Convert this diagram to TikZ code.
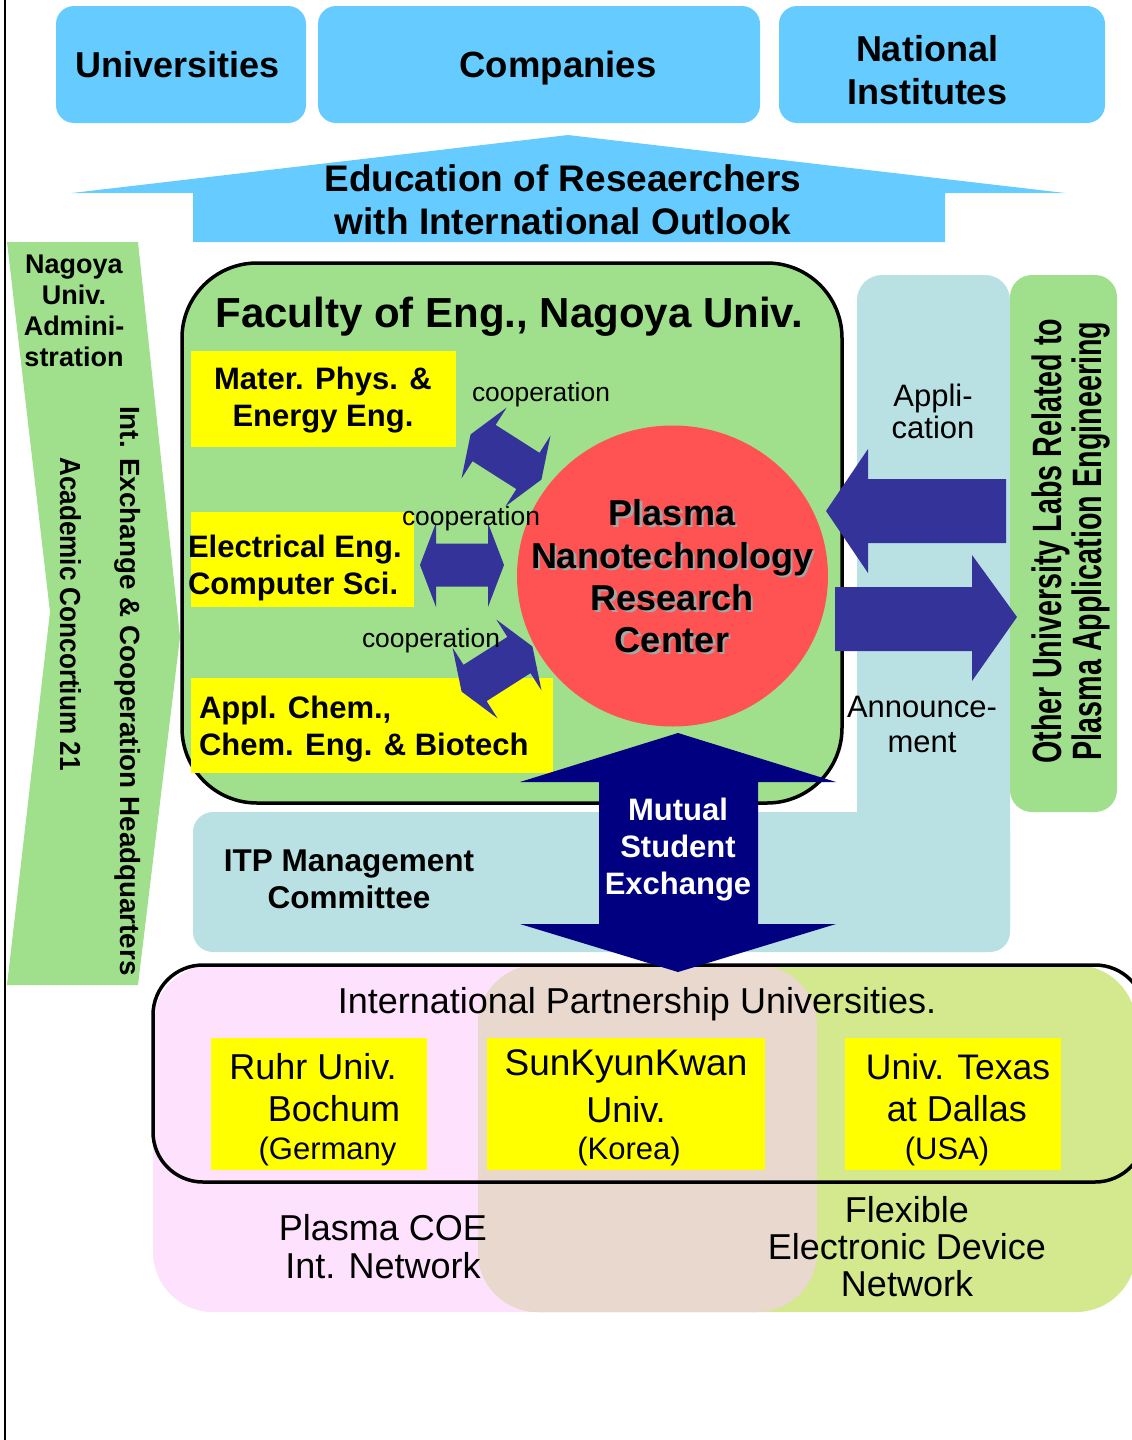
\documentclass[tikz,border=0pt]{standalone}
\usepackage{fontspec}
\setmainfont{Liberation Sans}
\usetikzlibrary{shapes.geometric}
\definecolor{skyb}{RGB}{102,204,255}
\definecolor{lgreen}{RGB}{160,224,140}
\definecolor{ylw}{RGB}{255,255,0}
\definecolor{redc}{RGB}{255,82,82}
\definecolor{coopb}{RGB}{51,51,153}
\definecolor{navyb}{RGB}{0,0,128}
\definecolor{itpb}{RGB}{185,224,227}
\definecolor{pinkc}{RGB}{253,225,253}
\definecolor{tanc}{RGB}{232,216,205}
\definecolor{ygreen}{RGB}{212,232,142}
\newcommand\fsz[2]{\fontsize{#1}{#2}\selectfont}
\begin{document}
\begin{tikzpicture}[x=1pt,y=-1pt,
  lbl/.style={inner sep=0pt, outer sep=0pt, align=center, text=black},
  skybox/.style={fill=skyb, rounded corners=18pt, inner sep=0pt, minimum height=117pt},
  ybox/.style={fill=ylw, inner sep=0pt},
  coop/.style={fill=coopb},
]
\useasboundingbox (0,0) rectangle (1132,1440);
\draw[line width=1.5pt] (5,0) -- (5,1440);

% top boxes
\node[skybox, minimum width=250pt] (univ) at (181,64.5) {};
\node[skybox, minimum width=442pt] (comp) at (539,64.5) {};
\node[skybox, minimum width=326pt] (natl) at (942,64.5) {};
\node[lbl, anchor=base, font=\bfseries\fsz{36}{43}] (univt) at (177.5,77) {Universities};
\node[lbl, anchor=base, font=\bfseries\fsz{36.5}{43}] (compt) at (558,77) {Companies};
\node[lbl, font=\bfseries\fsz{36}{43}] (natlt) at (927,70.3) {National\\Institutes};

% education arrow
\fill[skyb] (568,135) -- (1065,193) -- (945,193) -- (945,242) -- (193,242) -- (193,193) -- (72,193) -- cycle;
\node[lbl, font=\bfseries\fsz{37}{43}] (edu) at (563,200) {Education of Reseaerchers\\with International Outlook};

% left chevron
\fill[lgreen] (7,242) -- (138,242) -- (180,637) -- (138,985) -- (7,985) -- (50,612) -- cycle;
\node[lbl, font=\bfseries\fsz{27}{31}] (nua) at (74,311) {Nagoya\\Univ.\\Admini-\\stration};
\node[lbl, anchor=base, rotate=-90, font=\bfseries\fsz{27.8}{33}] (iech) at (120,691) {Int. Exchange \& Cooperation Headquarters};
\node[lbl, anchor=base, rotate=-90, xscale=0.9, font=\bfseries\fsz{29}{33}] (ac21) at (60,614) {Academic Concortium 21};

% ITP area
\fill[itpb, rounded corners=25pt] (857,275) rectangle (1010,952);
\fill[itpb, rounded corners=20pt] (193,812) rectangle (1010,952);
\node[lbl, font=\bfseries\fsz{31.5}{37}] (itp) at (349,879) {ITP Management\\Committee};

% other labs
\node[fill=lgreen, rounded corners=22pt, minimum width=107pt, minimum height=537pt, inner sep=0pt] (olabs) at (1063.5,543.5) {};
\node[lbl, rotate=90, xscale=0.70, font=\bfseries\fsz{41}{40}] (olabst) at (1071,541) {Other University Labs Related to\\Plasma Application Engineering};

% faculty
\node[fill=lgreen, draw=black, line width=3.5pt, rounded corners=75pt, minimum width=660pt, minimum height=540pt, inner sep=0pt] (fac) at (512,533) {};
\node[lbl, anchor=base, font=\bfseries\fsz{42}{50}] (fact) at (509,327) {Faculty of Eng., Nagoya Univ.};

\node[ybox, minimum width=265pt, minimum height=96pt] (mat) at (323.5,399) {};
\node[lbl, font=\bfseries\fsz{31}{37}] (matt) at (323,400.4) {Mater. Phys. \&\\Energy Eng.};
\node[ybox, minimum width=223pt, minimum height=95pt] (elec) at (302.5,559.5) {};
\node[lbl, anchor=west, align=left, font=\bfseries\fsz{31}{37}] (elect) at (188,567.5) {Electrical Eng.\\Computer Sci.};
\node[ybox, minimum width=362pt, minimum height=95pt] (chem) at (372,725.5) {};
\node[lbl, anchor=west, align=left, font=\bfseries\fsz{31}{37}] (chemt) at (199,729.5) {Appl. Chem.,\\Chem. Eng. \& Biotech};

% centre
\node[ellipse, fill=redc, minimum width=311pt, minimum height=301pt, inner sep=0pt] (pnrc) at (672.5,576) {};
\node[lbl, text=gray!70, font=\bfseries\fsz{36}{42.3}] (pnrcs) at (674.5,578.3) {Plasma\\Nanotechnology\\Research\\Center};
\node[lbl, font=\bfseries\fsz{36}{42.3}] (pnrct) at (672,576.3) {Plasma\\Nanotechnology\\Research\\Center};

% cooperation arrows
\fill[coop, shift={(506,457)}, rotate=-32.5] (-42,0) -- (-26,-42) -- (-26,-21.5) -- (26,-21.5) -- (26,-42) -- (42,0) -- (26,42) -- (26,21.5) -- (-26,21.5) -- (-26,42) -- cycle;
\fill[coop, shift={(462,565)}] (-42,0) -- (-26,-42) -- (-26,-21.5) -- (26,-21.5) -- (26,-42) -- (42,0) -- (26,42) -- (26,21.5) -- (-26,21.5) -- (-26,42) -- cycle;
\fill[coop, shift={(497,669)}, rotate=32.5] (-42,0) -- (-26,-42) -- (-26,-21.5) -- (26,-21.5) -- (26,-42) -- (42,0) -- (26,42) -- (26,21.5) -- (-26,21.5) -- (-26,42) -- cycle;
\node[lbl, anchor=base, font=\fsz{26.4}{30}] (coop1) at (541,401) {cooperation};
\node[lbl, anchor=base, font=\fsz{26.4}{30}] (coop2) at (471,525) {cooperation};
\node[lbl, anchor=base, font=\fsz{26.4}{30}] (coop3) at (431,647) {cooperation};

% right arrows
\fill[coop] (826,511) -- (868,449) -- (868,479) -- (1006,479) -- (1006,543) -- (868,543) -- (868,573) -- cycle;
\fill[coop] (1017,617) -- (972,555) -- (972,587) -- (835,587) -- (835,651) -- (972,651) -- (972,681) -- cycle;
\node[lbl, font=\fsz{31}{32}] (appl) at (933,411) {Appli-\\cation};
\node[lbl, font=\fsz{31}{35}] (ann) at (922,724) {Announce-\\ment};

% bottom networks
\fill[pinkc, rounded corners=60pt] (153,965) rectangle (817,1312);
\fill[ygreen, rounded corners=60pt] (478,965) rectangle (1136,1312);
\begin{scope}
\clip[rounded corners=60pt] (153,965) rectangle (817,1312);
\fill[tanc, rounded corners=60pt] (478,965) rectangle (1136,1312);
\end{scope}
\node[draw=black, line width=3.5pt, rounded corners=50pt, minimum width=992pt, minimum height=217pt, inner sep=0pt] (ipu) at (649,1073.5) {};
\node[lbl, anchor=base, font=\fsz{36}{43}] (ipt) at (637,1013) {International Partnership Universities.};

\node[ybox, minimum width=216pt, minimum height=132pt] (ruhr) at (319,1104) {};
\node[ybox, minimum width=278pt, minimum height=132pt] (skku) at (626,1104) {};
\node[ybox, minimum width=216pt, minimum height=132pt] (utd) at (953,1104) {};
\node[lbl, anchor=base, font=\fsz{36}{43}] (ruhra) at (313,1079) {Ruhr Univ.};
\node[lbl, anchor=base, font=\fsz{36}{43}] (ruhrb) at (334,1121) {Bochum};
\node[lbl, anchor=base, font=\fsz{31}{37}] (ruhrc) at (327.5,1159) {(Germany};
\node[lbl, anchor=base, font=\fsz{37}{43}] (skkua) at (626,1075) {SunKyunKwan};
\node[lbl, anchor=base, font=\fsz{36}{43}] (skkub) at (626,1122) {Univ.};
\node[lbl, anchor=base, font=\fsz{31}{37}] (skkuc) at (629,1159) {(Korea)};
\node[lbl, anchor=base, font=\fsz{35.5}{43}] (utda) at (958,1079) {Univ. Texas};
\node[lbl, anchor=base, font=\fsz{36}{43}] (utdb) at (957,1121) {at Dallas};
\node[lbl, anchor=base, font=\fsz{31}{37}] (utdc) at (947,1159) {(USA)};

\node[lbl, font=\fsz{36}{38}] (pcoe) at (383,1247) {Plasma COE\\Int. Network};
\node[lbl, font=\fsz{36}{37}] (fedn) at (907,1247) {Flexible\\Electronic Device\\Network};

% mutual exchange arrow
\fill[navyb] (678,733) -- (836,782) -- (758,782) -- (758,924) -- (836,924) -- (678,972) -- (520,924) -- (599,924) -- (599,782) -- (520,782) -- cycle;
\node[lbl, text=white, font=\bfseries\fsz{31}{37}] (mse) at (678,850) {Mutual\\Student\\Exchange};
\end{tikzpicture}
\end{document}
